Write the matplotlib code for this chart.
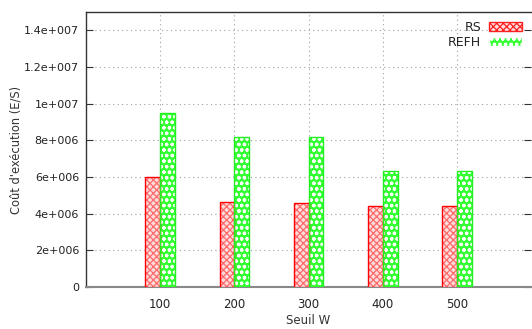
import matplotlib
matplotlib.use("Agg")
import matplotlib.pyplot as plt
import numpy as np
from matplotlib.patches import Patch

thresholds = [100, 200, 300, 400, 500]
rs = [6.0e6, 4.63e6, 4.57e6, 4.41e6, 4.41e6]
refh = [9.47e6, 8.18e6, 8.18e6, 6.32e6, 6.32e6]
y_ticks = [0, 2e6, 4e6, 6e6, 8e6, 1e7, 1.2e7, 1.4e7]
y_tick_labels = ["0", "2e+006", "4e+006", "6e+006", "8e+006", "1e+007", "1.2e+007", "1.4e+007"]

plt.rcParams['font.family'] = ['DejaVu Sans']
plt.rcParams['hatch.linewidth'] = 0.9

fig = plt.figure(figsize=(5.32, 3.29), dpi=100)
ax = fig.add_axes([86/532, 1 - 287/329, (531 - 86)/532, (287 - 12)/329])

x = np.array(thresholds, dtype=float)
w = 20

# RS bars: red checker fill with red outline
ax.bar(x - w/2, rs, width=w, facecolor="#ffdcdc", edgecolor="#ff6a6a", hatch="xxxxx", linewidth=0, zorder=3)
ax.bar(x - w/2, rs, width=w, fill=False, edgecolor="#ff0000", linewidth=1.0, zorder=4)
# REFH bars: green fill with white circles
ax.bar(x + w/2, refh, width=w, facecolor="#33ff33", edgecolor="white", hatch="ooo", linewidth=0, zorder=3)
ax.bar(x + w/2, refh, width=w, fill=False, edgecolor="#22ee22", linewidth=1.0, zorder=4)

ax.set_xlim(0, 600)
ax.set_ylim(0, 1.5e7)
ax.set_xticks(thresholds)
ax.set_xticklabels([str(t) for t in thresholds])
ax.set_yticks(y_ticks)
ax.set_yticklabels(y_tick_labels)

ax.grid(True, color="#a0a0a0", linestyle=(0, (1, 3)), linewidth=0.8, zorder=0)
ax.tick_params(axis="y", direction="in", length=5, right=True, labelsize=8, colors="#333333", labelcolor="#222222", pad=5)
ax.tick_params(axis="x", length=0, labelsize=8.5, labelcolor="#222222", pad=8)

for s in ["left", "top"]:
    ax.spines[s].set_color("#333333")
    ax.spines[s].set_linewidth(1.0)
ax.spines["bottom"].set_color("#888888")
ax.spines["bottom"].set_linewidth(1.5)
ax.spines["right"].set_visible(False)

ax.set_xlabel("Seuil W", fontsize=8.5, color="#333333", labelpad=2)
ax.set_ylabel("Coût d'exécution (E/S)", fontsize=8.3, color="#333333")
ax.yaxis.set_label_coords(-63/445, 0.5)

handles = [
    Patch(facecolor="#ffdcdc", edgecolor="#ff2020", hatch="xxxxx", linewidth=1.0),
    Patch(facecolor="#33ff33", edgecolor="white", hatch="ooo", linewidth=1.0),
]
leg = ax.legend(handles, ["RS", "REFH"], loc="upper right", markerfirst=False, frameon=False,
                fontsize=9, handlelength=2.7, handleheight=0.7, labelspacing=0.15,
                borderaxespad=0.3, handletextpad=0.6)
for t in leg.get_texts():
    t.set_color("#222222")

fig.savefig("out.png", dpi=100)
